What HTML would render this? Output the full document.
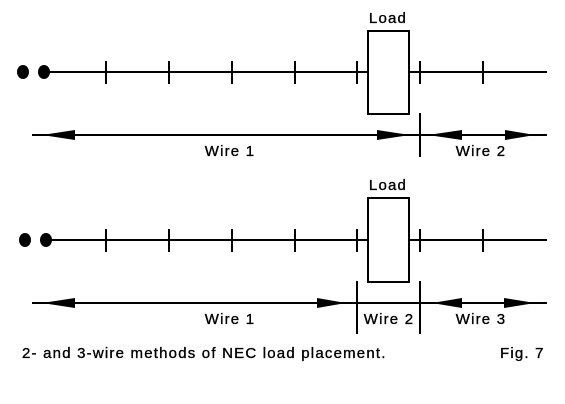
<!DOCTYPE html>
<html><head><meta charset="utf-8"><style>
html,body{margin:0;padding:0;background:#fff;}
svg{display:block;}
text{font-family:"Liberation Sans",Arial,sans-serif;font-size:15px;letter-spacing:1.2px;fill:#000;stroke:#000;stroke-width:0.35;}
</style></head><body>
<svg width="565" height="404" viewBox="0 0 565 404" xmlns="http://www.w3.org/2000/svg">
<g stroke="#000" stroke-width="2" fill="none">
<line x1="44" y1="72" x2="547" y2="72"/>
<line x1="106" y1="61" x2="106" y2="84"/>
<line x1="169" y1="61" x2="169" y2="84"/>
<line x1="232" y1="61" x2="232" y2="84"/>
<line x1="295" y1="61" x2="295" y2="84"/>
<line x1="357" y1="61" x2="357" y2="84"/>
<line x1="420" y1="61" x2="420" y2="84"/>
<line x1="483" y1="61" x2="483" y2="84"/>
<rect x="368" y="31" width="41" height="83" fill="#fff"/>
<line x1="32" y1="135" x2="547" y2="135"/>
<line x1="420" y1="113" x2="420" y2="157"/>
<line x1="46" y1="240" x2="547" y2="240"/>
<line x1="106" y1="229" x2="106" y2="252"/>
<line x1="169" y1="229" x2="169" y2="252"/>
<line x1="232" y1="229" x2="232" y2="252"/>
<line x1="295" y1="229" x2="295" y2="252"/>
<line x1="357" y1="229" x2="357" y2="252"/>
<line x1="420" y1="229" x2="420" y2="252"/>
<line x1="483" y1="229" x2="483" y2="252"/>
<rect x="368" y="198" width="41" height="84" fill="#fff"/>
<line x1="32" y1="303" x2="547" y2="303"/>
<line x1="357" y1="281" x2="357" y2="334"/>
<line x1="420" y1="281" x2="420" y2="334"/>
</g>
<g fill="#000">
<ellipse cx="23" cy="72" rx="6" ry="7"/>
<ellipse cx="44" cy="72" rx="6" ry="7"/>
<ellipse cx="25" cy="240" rx="6" ry="7"/>
<ellipse cx="46" cy="240" rx="6" ry="7"/>
<polygon points="42,135 75,130 75,140"/>
<polygon points="410,135 377,130 377,140"/>
<polygon points="428,135 462,130 462,140"/>
<polygon points="535,135 505,130 505,140"/>
<polygon points="42,303 75,298 75,308"/>
<polygon points="346,303 317,298 317,308"/>
<polygon points="432,303 462,298 462,308"/>
<polygon points="535,303 504,298 504,308"/>
</g>
<text x="388" y="23" text-anchor="middle">Load</text>
<text x="230" y="156" text-anchor="middle">Wire 1</text>
<text x="481" y="156" text-anchor="middle">Wire 2</text>
<text x="388" y="190" text-anchor="middle">Load</text>
<text x="230" y="324" text-anchor="middle">Wire 1</text>
<text x="389" y="324" text-anchor="middle">Wire 2</text>
<text x="481" y="324" text-anchor="middle">Wire 3</text>
<text x="22" y="358">2- and 3-wire methods of NEC load placement.</text>
<text x="500" y="358">Fig. 7</text>
</svg>
</body></html>
